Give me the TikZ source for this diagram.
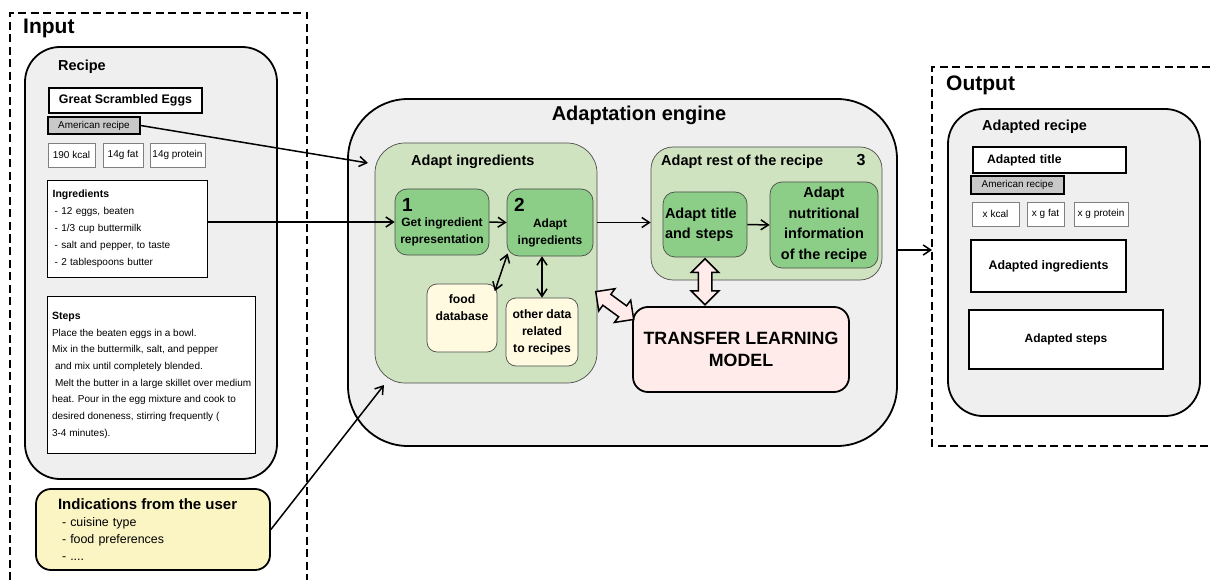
\documentclass[tikz,border=0pt]{standalone}
\usepackage{fontspec}
\setmainfont{Liberation Sans}
\usetikzlibrary{arrows.meta,shapes.arrows}

\definecolor{panelgray}{RGB}{240,239,240}
\definecolor{grplight}{RGB}{208,227,192}
\definecolor{grpdark}{RGB}{140,206,135}
\definecolor{storecream}{RGB}{255,250,224}
\definecolor{userbuff}{RGB}{251,245,196}
\definecolor{tlpink}{RGB}{255,236,234}
\definecolor{taggray}{RGB}{200,200,200}

\begin{document}
\begin{tikzpicture}[x=1pt,y=-1pt,
ioframe/.style={line width=2.6pt,dash pattern=on 8pt off 4.5pt},
panel/.style={draw,line width=1.8pt,fill=panelgray},
hdr/.style={anchor=west,inner sep=0pt,font=\fontsize{21}{24}\selectfont\bfseries},
sublbl/.style={anchor=west,inner sep=0pt,font=\fontsize{14.5}{17}\selectfont\bfseries},
card/.style={draw,line width=1.3pt,fill=white,inner sep=0pt},
tagbox/.style={draw,line width=1.3pt,fill=taggray,inner sep=0pt,font=\fontsize{9.9}{12}\selectfont},
nutbox/.style={draw=gray,line width=0.8pt,fill=white,inner sep=0pt,font=\fontsize{10}{12}\selectfont},
grp/.style={draw=black!70,line width=0.7pt,fill=grplight},
stepbox/.style={draw=black!70,line width=0.7pt,fill=grpdark,rounded corners=12pt,align=center,inner sep=2pt},
store/.style={draw=black!70,line width=0.7pt,fill=storecream,rounded corners=10pt,align=center,inner sep=2pt,font=\fontsize{12.2}{17}\selectfont\bfseries},
numlbl/.style={inner sep=0pt,font=\fontsize{16}{16}\selectfont\bfseries},
flow/.style={line width=1.5pt,-{Straight Barb[length=7.5pt,width=10pt]}},
flowboth/.style={line width=1.5pt,{Straight Barb[length=7.5pt,width=10pt]}-{Straight Barb[length=7.5pt,width=10pt]}},
fatarrow/.style={double arrow,draw,line width=1.5pt,fill=tlpink,inner xsep=0pt,inner ysep=6pt,double arrow head extend=7pt}]
\useasboundingbox (0,0) rectangle (1210,580);

\draw[ioframe] (10,580) -- (10,13) -- (307,13) -- (307,580);
\draw[ioframe] (1210,67) -- (932,67) -- (932,446) -- (1210,446);

\node[hdr] (inlbl) at (23,28) {Input};
\node[panel,rounded corners=35pt,minimum width=252pt,minimum height=432pt] (recipe) at (151,263) {};
\node[sublbl] (recipelbl) at (58,67) {Recipe};
\node[card,minimum width=153pt,minimum height=25pt,font=\fontsize{12.4}{14}\selectfont\bfseries] (rtitle) at (125.5,100.5) {Great Scrambled Eggs};
\node[tagbox,minimum width=92pt,minimum height=17pt] (rtag) at (94,125.5) {American recipe};
\node[nutbox,minimum width=47pt,minimum height=24pt] (rkcal) at (71.5,155) {190 kcal};
\node[nutbox,minimum width=40pt,minimum height=24pt] (rfat) at (123,155) {14g fat};
\node[nutbox,minimum width=55pt,minimum height=24pt] (rprot) at (177.5,155) {14g protein};
\node[card,anchor=north west,minimum width=160pt,minimum height=97pt,text width=150pt,inner xsep=5pt,align=left,font=\fontsize{10}{17}\selectfont] (ingr) at (47,180)
{{\fontsize{10.5}{17}\selectfont\bfseries Ingredients}\\
\hspace*{2pt}- 12 eggs, beaten\\
\hspace*{2pt}- 1/3 cup buttermilk\\
\hspace*{2pt}- salt and pepper, to taste\\
\hspace*{2pt}- 2 tablespoons butter};
\node[card,anchor=north west,minimum width=208pt,minimum height=157pt,inner xsep=3pt,align=left,font=\fontsize{10}{16.7}\selectfont] (steps) at (47,296)
{{\fontsize{10.5}{16.7}\selectfont\bfseries Steps}\\
Place the beaten eggs in a bowl.\\
Mix in the buttermilk, salt, and pepper\\
\hspace*{3pt}and mix until completely blended.\\
\hspace*{3pt}Melt the butter in a large skillet over medium\\
heat. Pour in the egg mixture and cook to\\
desired doneness, stirring frequently (\\
3-4 minutes).};
\node[draw,line width=1.8pt,fill=userbuff,rounded corners=15pt,minimum width=234pt,minimum height=81pt,text width=190pt,align=left,font=\fontsize{12.4}{17}\selectfont] (user) at (153,529.5)
{{\fontsize{15}{17}\selectfont\bfseries Indications from the user}\\
\hspace*{4pt}- cuisine type\\
\hspace*{4pt}- food preferences\\
\hspace*{4pt}- ....};

\node[panel,rounded corners=60pt,minimum width=549pt,minimum height=347pt] (engine) at (622.5,272.5) {};
\node[inner sep=0pt,font=\fontsize{20}{24}\selectfont\bfseries] (enginelbl) at (639,115) {Adaptation engine};
\node[grp,rounded corners=30pt,minimum width=222pt,minimum height=240pt] (adaptingr) at (486,263) {};
\node[sublbl] (adaptingrlbl) at (411,162) {Adapt ingredients};
\node[stepbox,minimum width=94pt,minimum height=66pt,font=\fontsize{12}{16.5}\selectfont\bfseries] (step1) at (442,222)
{\makebox[86pt][l]{\hspace*{3pt}\fontsize{19}{19}\selectfont 1}\\[-1.5pt]Get ingredient\\representation};
\node[stepbox,minimum width=86pt,minimum height=67pt,font=\fontsize{12}{16.5}\selectfont\bfseries] (step2) at (550,222.5)
{\makebox[80pt][l]{\hspace*{4pt}\fontsize{19}{19}\selectfont 2}\\Adapt\\ingredients};
\node[store,minimum width=70pt,minimum height=68pt] (fooddb) at (462,318) {};
\node[store,draw=none,fill=none] (fooddbtxt) at (462,308) {food\\database};
\node[store,minimum width=72pt,minimum height=68pt] (other) at (542,332) {other data\\related\\to recipes};

\node[grp,rounded corners=22pt,minimum width=231pt,minimum height=133pt] (adaptrest) at (766.5,213.5) {};
\node[sublbl] (adaptrestlbl) at (661,162) {Adapt rest of the recipe};
\node[numlbl] (num3) at (861,160) {3};
\node[stepbox,minimum width=84pt,minimum height=65pt,text width=80pt,align=left,font=\fontsize{14.5}{20}\selectfont\bfseries] (titlesteps) at (705,224.5) {Adapt title\\and steps};
\node[stepbox,minimum width=108pt,minimum height=86pt,font=\fontsize{14.5}{20.5}\selectfont\bfseries] (nutri) at (824,225) {Adapt\\nutritional\\information\\of the recipe};
\node[draw,line width=1.8pt,fill=tlpink,rounded corners=15pt,minimum width=216pt,minimum height=85pt,align=center,font=\fontsize{17.8}{22}\selectfont\bfseries] (tlm) at (741,349.5) {TRANSFER LEARNING\\MODEL};

\node[hdr] (outlbl) at (946,85) {Output};
\node[panel,rounded corners=35pt,minimum width=252pt,minimum height=307pt] (outrecipe) at (1074,262.5) {};
\node[sublbl] (outrecipelbl) at (982,127) {Adapted recipe};
\node[card,minimum width=153pt,minimum height=26pt,text width=125pt,inner xsep=14pt,align=left,font=\fontsize{12.2}{14}\selectfont\bfseries] (otitle) at (1049.5,160) {Adapted title};
\node[tagbox,minimum width=93pt,minimum height=18pt] (otag) at (1017.5,185) {American recipe};
\node[nutbox,minimum width=47pt,minimum height=24pt] (okcal) at (995.5,214) {x kcal};
\node[nutbox,minimum width=37pt,minimum height=24pt] (ofat) at (1045.5,214) {x g fat};
\node[nutbox,minimum width=54pt,minimum height=24pt] (oprot) at (1101,214) {x g protein};
\node[card,minimum width=155pt,minimum height=52pt,font=\fontsize{12.4}{14}\selectfont\bfseries] (oingr) at (1048.5,266) {Adapted ingredients};
\node[card,minimum width=194pt,minimum height=59pt,font=\fontsize{12}{14}\selectfont\bfseries] (osteps) at (1066,339.5) {Adapted steps};

\coordinate (tagin) at (368,163);
\coordinate (userin) at (384,385);
\coordinate (outin) at (932,250);

\draw[flow] (rtag.east) -- (tagin);
\draw[flow] (ingr.east |- step1.west) -- (step1.west);
\draw[flow] (user.east) -- (userin);
\draw[flow] (step1.east) -- (step2.west);
\draw[flow] (step2.east -| adaptingr.east) -- (step2.east -| adaptrest.west);
\draw[flow] (titlesteps.east) -- (nutri.west);
\draw[flow] (engine.east |- outin) -- (outin);
\draw[flowboth,shorten <=-3pt,shorten >=-8pt] (step2.south west) -- (fooddb.north east);
\draw[flowboth] (other.north |- step2.south) -- (other.north);
\path (titlesteps.south) -- node[fatarrow,sloped,minimum height=46pt] (fatv) {} (titlesteps.south |- tlm.north);
\path (adaptingr.345) -- node[fatarrow,sloped,minimum height=47pt] (fatd) {} (tlm.164);
\end{tikzpicture}
\end{document}
